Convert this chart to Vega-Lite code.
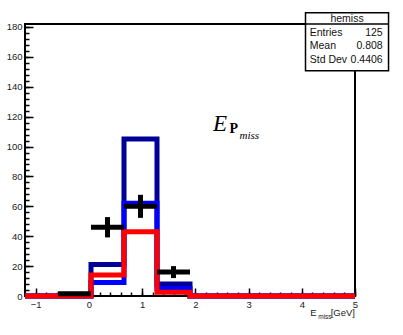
{
  "$schema": "https://vega.github.io/schema/vega-lite/v6.json",
  "width": 330,
  "height": 272,
  "autosize": {"type": "none"},
  "padding": {"left": 25, "top": 24, "right": 48, "bottom": 39},
  "background": "white",
  "config": {"view": {"stroke": "black", "strokeWidth": 2}},
  "resolve": {"axis": {"x": "independent", "y": "independent"}},
  "datasets": {
    "hist": [
      {"series": "dark", "x": -1.2, "n": 0}, {"series": "dark", "x": -0.58, "n": 0}, {"series": "dark", "x": 0.04, "n": 21}, {"series": "dark", "x": 0.66, "n": 105}, {"series": "dark", "x": 1.28, "n": 8}, {"series": "dark", "x": 1.9, "n": 0}, {"series": "dark", "x": 2.52, "n": 0}, {"series": "dark", "x": 3.14, "n": 0}, {"series": "dark", "x": 3.76, "n": 0}, {"series": "dark", "x": 4.38, "n": 0}, {"series": "dark", "x": 5.0, "n": 0},
      {"series": "bright", "x": -1.2, "n": 0}, {"series": "bright", "x": -0.58, "n": 0}, {"series": "bright", "x": 0.04, "n": 9}, {"series": "bright", "x": 0.66, "n": 62}, {"series": "bright", "x": 1.28, "n": 5}, {"series": "bright", "x": 1.9, "n": 0}, {"series": "bright", "x": 2.52, "n": 0}, {"series": "bright", "x": 3.14, "n": 0}, {"series": "bright", "x": 3.76, "n": 0}, {"series": "bright", "x": 4.38, "n": 0}, {"series": "bright", "x": 5.0, "n": 0},
      {"series": "red", "x": -1.2, "n": 0}, {"series": "red", "x": -0.58, "n": 0}, {"series": "red", "x": 0.04, "n": 14}, {"series": "red", "x": 0.66, "n": 43}, {"series": "red", "x": 1.28, "n": 2.5}, {"series": "red", "x": 1.9, "n": 0}, {"series": "red", "x": 2.52, "n": 0}, {"series": "red", "x": 3.14, "n": 0}, {"series": "red", "x": 3.76, "n": 0}, {"series": "red", "x": 4.38, "n": 0}, {"series": "red", "x": 5.0, "n": 0}
    ],
    "points": [
      {"xlo": -0.58, "xhi": 0.04, "xc": -0.27, "n": 1.5, "lo": 0.5, "hi": 2.5},
      {"xlo": 0.04, "xhi": 0.66, "xc": 0.35, "n": 46, "lo": 39.2, "hi": 52.8},
      {"xlo": 0.66, "xhi": 1.28, "xc": 0.97, "n": 60, "lo": 52.3, "hi": 67.7},
      {"xlo": 1.28, "xhi": 1.9, "xc": 1.59, "n": 16, "lo": 12, "hi": 20}
    ]
  },
  "layer": [
    {
      "data": {"name": "hist"},
      "transform": [{"filter": {"field": "series", "equal": "dark"}}],
      "mark": {"type": "line", "interpolate": "step-after", "color": "#000099", "strokeWidth": 5, "strokeCap": "butt", "strokeJoin": "miter"},
      "encoding": {
        "x": {"field": "x", "type": "quantitative", "scale": {"domain": [-1.2, 5], "nice": false, "zero": false},
          "axis": {"orient": "bottom", "title": null, "grid": false, "domain": false, "ticks": false, "values": [-1, 0, 1, 2, 3, 4, 5], "labelPadding": 3, "labelFlush": false, "labelOverlap": false, "labelBound": false, "labelFont": "Liberation Sans", "labelFontSize": 9.5, "labelColor": "#222"}},
        "y": {"field": "n", "type": "quantitative", "scale": {"domain": [0, 182], "nice": false, "zero": false},
          "axis": {"orient": "left", "title": null, "grid": false, "domain": false, "ticks": false, "values": [0, 20, 40, 60, 80, 100, 120, 140, 160, 180], "labelPadding": 3, "labelFlush": false, "labelOverlap": false, "labelBound": false, "labelFont": "Liberation Sans", "labelFontSize": 9.5, "labelColor": "#222"}}
      }
    },
    {
      "data": {"name": "hist"},
      "transform": [{"filter": {"field": "series", "equal": "bright"}}],
      "mark": {"type": "line", "interpolate": "step-after", "color": "#0000ff", "strokeWidth": 5, "strokeCap": "butt", "strokeJoin": "miter"},
      "encoding": {
        "x": {"field": "x", "type": "quantitative",
          "axis": {"orient": "bottom", "title": null, "grid": false, "domain": false, "labels": false, "values": [-1, 0, 1, 2, 3, 4, 5], "tickSize": -8, "tickWidth": 1.5, "tickColor": "black"}},
        "y": {"field": "n", "type": "quantitative",
          "axis": {"orient": "left", "title": null, "grid": false, "domain": false, "labels": false, "values": [0, 20, 40, 60, 80, 100, 120, 140, 160, 180], "tickSize": -8, "tickWidth": 1.5, "tickColor": "black"}}
      }
    },
    {
      "data": {"name": "hist"},
      "transform": [{"filter": {"field": "series", "equal": "red"}}],
      "mark": {"type": "line", "interpolate": "step-after", "color": "#ff0000", "strokeWidth": 5, "strokeCap": "butt", "strokeJoin": "miter"},
      "encoding": {
        "x": {"field": "x", "type": "quantitative",
          "axis": {"orient": "bottom", "title": null, "grid": false, "domain": false, "labels": false, "values": [-1.2, -1, -0.8, -0.6, -0.4, -0.2, 0, 0.2, 0.4, 0.6, 0.8, 1, 1.2, 1.4, 1.6, 1.8, 2, 2.2, 2.4, 2.6, 2.8, 3, 3.2, 3.4, 3.6, 3.8, 4, 4.2, 4.4, 4.6, 4.8, 5], "tickSize": -4, "tickWidth": 1.5, "tickColor": "black"}},
        "y": {"field": "n", "type": "quantitative",
          "axis": {"orient": "left", "title": null, "grid": false, "domain": false, "labels": false, "values": [0, 4, 8, 12, 16, 20, 24, 28, 32, 36, 40, 44, 48, 52, 56, 60, 64, 68, 72, 76, 80, 84, 88, 92, 96, 100, 104, 108, 112, 116, 120, 124, 128, 132, 136, 140, 144, 148, 152, 156, 160, 164, 168, 172, 176, 180], "tickSize": -4, "tickWidth": 1.5, "tickColor": "black"}}
      }
    },
    {
      "data": {"name": "points"},
      "mark": {"type": "rule", "color": "black", "strokeWidth": 5, "strokeCap": "butt"},
      "encoding": {
        "x": {"field": "xlo", "type": "quantitative", "axis": null},
        "x2": {"field": "xhi"},
        "y": {"field": "n", "type": "quantitative", "axis": null}
      }
    },
    {
      "data": {"name": "points"},
      "mark": {"type": "rule", "color": "black", "strokeWidth": 5, "strokeCap": "butt"},
      "encoding": {
        "x": {"field": "xc", "type": "quantitative", "axis": null},
        "y": {"field": "lo", "type": "quantitative", "axis": null},
        "y2": {"field": "hi"}
      }
    },
    {
      "data": {"values": [{}]},
      "mark": {"type": "rect", "fill": "white", "stroke": "black", "strokeWidth": 1.5},
      "encoding": {
        "x": {"datum": 4.07, "type": "quantitative", "axis": null},
        "x2": {"datum": 5.63},
        "y": {"datum": 189.6, "type": "quantitative", "axis": null},
        "y2": {"datum": 150.7}
      }
    },
    {
      "data": {"values": [{}]},
      "mark": {"type": "rule", "color": "black", "strokeWidth": 1.5},
      "encoding": {
        "x": {"datum": 4.07, "type": "quantitative", "axis": null},
        "x2": {"datum": 5.63},
        "y": {"datum": 182, "type": "quantitative", "axis": null}
      }
    },
    {
      "data": {"values": [{}]},
      "mark": {"type": "text", "text": "hemiss", "font": "Liberation Sans", "fontSize": 10.5, "align": "center", "baseline": "middle", "color": "#111"},
      "encoding": {
        "x": {"datum": 4.85, "type": "quantitative", "axis": null},
        "y": {"datum": 185.6, "type": "quantitative", "axis": null}
      }
    },
    {
      "data": {"values": [{}]},
      "mark": {"type": "text", "text": "Entries", "font": "Liberation Sans", "fontSize": 10.5, "align": "left", "baseline": "middle", "color": "#111"},
      "encoding": {
        "x": {"datum": 4.15, "type": "quantitative", "axis": null},
        "y": {"datum": 176.0, "type": "quantitative", "axis": null}
      }
    },
    {
      "data": {"values": [{}]},
      "mark": {"type": "text", "text": "Mean", "font": "Liberation Sans", "fontSize": 10.5, "align": "left", "baseline": "middle", "color": "#111"},
      "encoding": {
        "x": {"datum": 4.15, "type": "quantitative", "axis": null},
        "y": {"datum": 167.3, "type": "quantitative", "axis": null}
      }
    },
    {
      "data": {"values": [{}]},
      "mark": {"type": "text", "text": "Std Dev", "font": "Liberation Sans", "fontSize": 10.5, "align": "left", "baseline": "middle", "color": "#111"},
      "encoding": {
        "x": {"datum": 4.15, "type": "quantitative", "axis": null},
        "y": {"datum": 158.2, "type": "quantitative", "axis": null}
      }
    },
    {
      "data": {"values": [{}]},
      "mark": {"type": "text", "text": "125", "font": "Liberation Sans", "fontSize": 10.5, "align": "right", "baseline": "middle", "color": "#111"},
      "encoding": {
        "x": {"datum": 5.52, "type": "quantitative", "axis": null},
        "y": {"datum": 176.0, "type": "quantitative", "axis": null}
      }
    },
    {
      "data": {"values": [{}]},
      "mark": {"type": "text", "text": "0.808", "font": "Liberation Sans", "fontSize": 10.5, "align": "right", "baseline": "middle", "color": "#111"},
      "encoding": {
        "x": {"datum": 5.52, "type": "quantitative", "axis": null},
        "y": {"datum": 167.3, "type": "quantitative", "axis": null}
      }
    },
    {
      "data": {"values": [{}]},
      "mark": {"type": "text", "text": "0.4406", "font": "Liberation Sans", "fontSize": 10.5, "align": "right", "baseline": "middle", "color": "#111"},
      "encoding": {
        "x": {"datum": 5.52, "type": "quantitative", "axis": null},
        "y": {"datum": 158.2, "type": "quantitative", "axis": null}
      }
    },
    {
      "data": {"values": [{}]},
      "mark": {"type": "text", "text": "E", "font": "Liberation Serif", "fontStyle": "italic", "fontSize": 23, "align": "left", "baseline": "alphabetic", "color": "black"},
      "encoding": {
        "x": {"datum": 2.33, "type": "quantitative", "axis": null},
        "y": {"datum": 110.4, "type": "quantitative", "axis": null}
      }
    },
    {
      "data": {"values": [{}]},
      "mark": {"type": "text", "text": "P", "font": "Liberation Serif", "fontWeight": "bold", "fontSize": 14, "align": "left", "baseline": "alphabetic", "color": "black"},
      "encoding": {
        "x": {"datum": 2.64, "type": "quantitative", "axis": null},
        "y": {"datum": 108.8, "type": "quantitative", "axis": null}
      }
    },
    {
      "data": {"values": [{}]},
      "mark": {"type": "text", "text": "miss", "font": "Liberation Serif", "fontStyle": "italic", "fontSize": 11, "align": "left", "baseline": "alphabetic", "color": "black"},
      "encoding": {
        "x": {"datum": 2.83, "type": "quantitative", "axis": null},
        "y": {"datum": 105.0, "type": "quantitative", "axis": null}
      }
    },
    {
      "data": {"values": [{}]},
      "mark": {"type": "text", "text": "[GeV]", "font": "Liberation Sans", "fontSize": 9.5, "align": "right", "baseline": "alphabetic", "color": "#222"},
      "encoding": {
        "x": {"datum": 5.0, "type": "quantitative", "axis": null},
        "y": {"datum": -13.4, "type": "quantitative", "axis": null}
      }
    },
    {
      "data": {"values": [{}]},
      "mark": {"type": "text", "text": "miss", "font": "Liberation Sans", "fontSize": 6.5, "align": "right", "baseline": "alphabetic", "color": "#222"},
      "encoding": {
        "x": {"datum": 4.56, "type": "quantitative", "axis": null},
        "y": {"datum": -15.7, "type": "quantitative", "axis": null}
      }
    },
    {
      "data": {"values": [{}]},
      "mark": {"type": "text", "text": "E", "font": "Liberation Sans", "fontSize": 9.5, "align": "right", "baseline": "alphabetic", "color": "#222"},
      "encoding": {
        "x": {"datum": 4.28, "type": "quantitative", "axis": null},
        "y": {"datum": -13.4, "type": "quantitative", "axis": null}
      }
    }
  ]
}
